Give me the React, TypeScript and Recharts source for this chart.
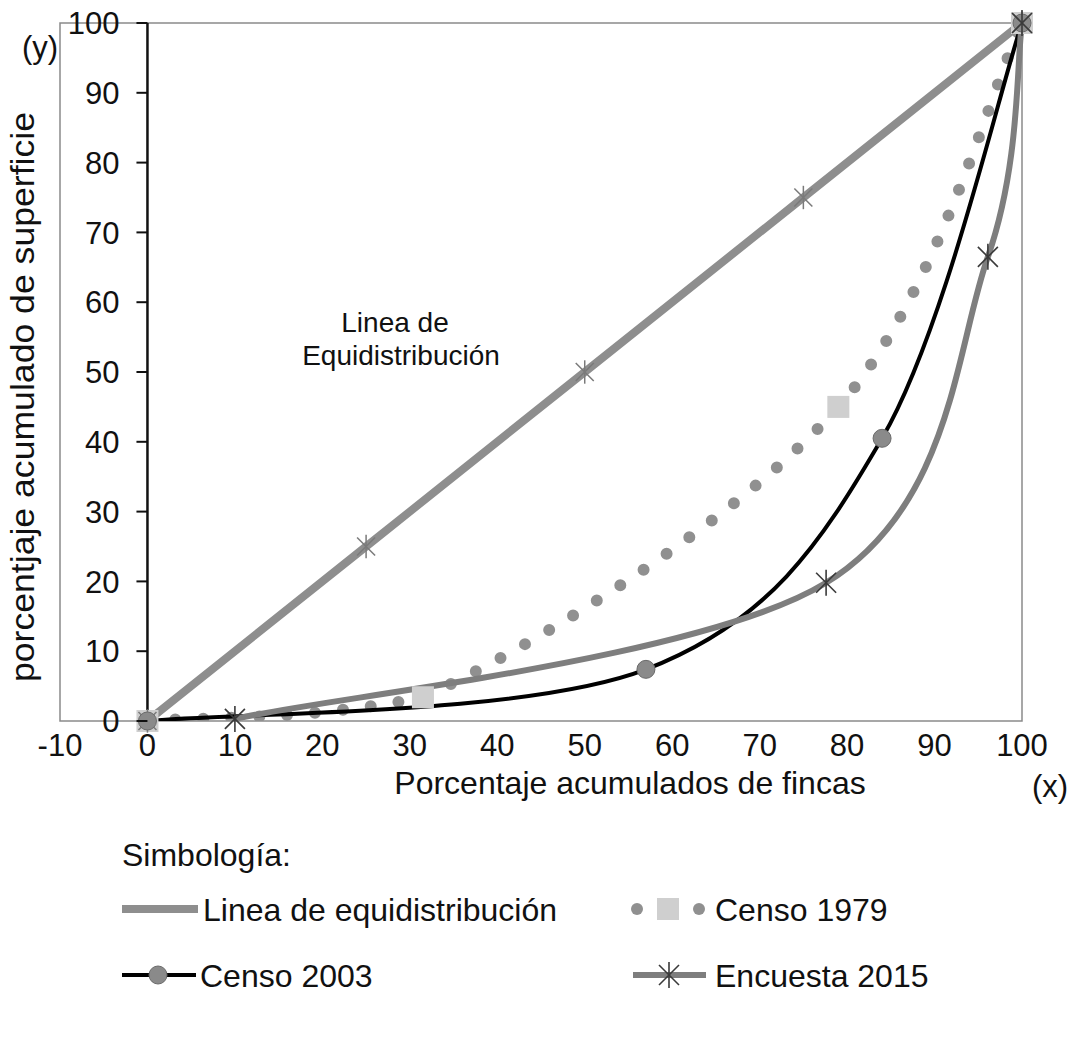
import React from 'react';
import { LineChart, Line, XAxis, YAxis, ReferenceArea, ReferenceLine } from 'recharts';

const xTicks = [-10, 0, 10, 20, 30, 40, 50, 60, 70, 80, 90, 100];
const yTicks = [0, 10, 20, 30, 40, 50, 60, 70, 80, 90, 100];

const equiX = [0, 25, 50, 75, 100];
const equiY = [0, 25, 50, 75, 100];

const censo1979X = [0, 31.5, 79, 100];
const censo1979Y = [0, 3.4, 45, 100];

const censo2003X = [0, 57, 84, 100];
const censo2003Y = [0, 7.4, 40.5, 100];

const encuestaX = [10, 77.6, 96.1, 100];
const encuestaY = [0.3, 19.8, 66.5, 100];

const toPoints = (xs: number[], ys: number[]) => xs.map((x, i) => ({ x, y: ys[i] }));

const equiData = toPoints(equiX, equiY);
const censo1979Data = toPoints(censo1979X, censo1979Y);
const censo2003Data = toPoints(censo2003X, censo2003Y);
const encuestaData = toPoints(encuestaX, encuestaY);

const FONT = '"Liberation Sans", Arial, sans-serif';
const W = 1078;
const CHART_H = 800;
const PLOT_LEFT = 60;
const PLOT_RIGHT = 1022;
const X_MIN = -10;
const X_MAX = 100;
// y axis crosses at x = 0
const AXIS_X = PLOT_LEFT + ((PLOT_RIGHT - PLOT_LEFT) * (0 - X_MIN)) / (X_MAX - X_MIN);

const clamp = (v: number, a: number, b: number) => Math.min(Math.max(v, Math.min(a, b)), Math.max(a, b));

// smoothed line like excel (cardinal spline, 1/6 tangents), no overshoot in y
const excelSmooth: any = (context: any) => {
  let pts: number[][] = [];
  return {
    areaStart() {},
    areaEnd() {},
    lineStart() {
      pts = [];
    },
    point(x: number, y: number) {
      pts.push([+x, +y]);
    },
    lineEnd() {
      const n = pts.length;
      if (!n) return;
      context.moveTo(pts[0][0], pts[0][1]);
      for (let i = 0; i < n - 1; i++) {
        const p0 = pts[Math.max(i - 1, 0)];
        const p1 = pts[i];
        const p2 = pts[i + 1];
        const p3 = pts[Math.min(i + 2, n - 1)];
        context.bezierCurveTo(
          p1[0] + (p2[0] - p0[0]) / 6,
          clamp(p1[1] + (p2[1] - p0[1]) / 6, p1[1], p2[1]),
          p2[0] - (p3[0] - p1[0]) / 6,
          clamp(p2[1] - (p3[1] - p1[1]) / 6, p1[1], p2[1]),
          p2[0],
          p2[1]
        );
      }
    },
  };
};

const Star = ({ cx, cy, s, color, w }: { cx: number; cy: number; s: number; color: string; w: number }) => (
  <g stroke={color} strokeWidth={w} fill="none">
    <line x1={cx} y1={cy - s * 1.3} x2={cx} y2={cy + s * 1.3} />
    <line x1={cx - s} y1={cy - s} x2={cx + s} y2={cy + s} />
    <line x1={cx - s} y1={cy + s} x2={cx + s} y2={cy - s} />
  </g>
);

const equiDot = (p: any) => <Star key={`e-${p.index}`} cx={p.cx} cy={p.cy} s={9} color="#7a7a7a" w={1.5} />;
const encuestaDot = (p: any) => <Star key={`s-${p.index}`} cx={p.cx} cy={p.cy} s={10} color="#3a3a3a" w={1.6} />;
const squareDot = (p: any) => (
  <rect key={`q-${p.index}`} x={p.cx - 11} y={p.cy - 11} width={22} height={22} fill="#cfcfcf" />
);
const circleDot = (p: any) => (
  <circle key={`c-${p.index}`} cx={p.cx} cy={p.cy} r={9} fill="#8a8a8a" stroke="#6a6a6a" strokeWidth={1} />
);

const YTick = (props: any) => {
  const { y, payload } = props;
  return (
    <g>
      <line x1={AXIS_X - 11} x2={AXIS_X} y1={y} y2={y} stroke="#111" strokeWidth={2} />
      <text x={AXIS_X - 28} y={y} dy="0.36em" textAnchor="end" fontSize={31} fontFamily={FONT} fill="#111">
        {payload.value}
      </text>
    </g>
  );
};

const XTick = (props: any) => {
  const { x, payload } = props;
  return (
    <text x={x} y={756} textAnchor="middle" fontSize={31} fontFamily={FONT} fill="#111">
      {payload.value}
    </text>
  );
};

const txt = { fontFamily: FONT, fill: '#111' };

export default function App() {
  return (
    <div style={{ position: 'absolute', left: 0, top: 0, width: W, height: 1045, background: '#fff' }}>
      <LineChart width={W} height={CHART_H} margin={{ top: 23, right: W - PLOT_RIGHT, bottom: 0, left: PLOT_LEFT - 1 }}>
        <XAxis
          type="number"
          dataKey="x"
          domain={[X_MIN, X_MAX]}
          ticks={xTicks}
          interval={0}
          height={CHART_H - 721}
          axisLine={false}
          tickLine={false}
          tick={<XTick />}
        />
        <YAxis
          yAxisId="y"
          type="number"
          domain={[0, 100]}
          ticks={yTicks}
          interval={0}
          width={1}
          axisLine={false}
          tickLine={false}
          tick={<YTick />}
        />
        <YAxis yAxisId="c" type="number" domain={[0, 100]} allowDataOverflow hide />

        <ReferenceArea yAxisId="y" x1={-10} x2={100} y1={0} y2={100} fill="none" stroke="#8a8a8a" strokeWidth={1.5} />
        <ReferenceLine yAxisId="y" x={0} stroke="#111" strokeWidth={2.5} />

        <Line yAxisId="c" data={equiData} dataKey="y" type="linear" stroke="#8e8e8e" strokeWidth={8} dot={false} isAnimationActive={false} />
        <Line
          yAxisId="c"
          data={censo1979Data}
          dataKey="y"
          type={excelSmooth}
          stroke="#909090"
          strokeWidth={12}
          strokeDasharray="0 28"
          strokeLinecap="round"
          dot={false}
          isAnimationActive={false}
        />
        <Line yAxisId="c" data={censo2003Data} dataKey="y" type={excelSmooth} stroke="#000" strokeWidth={4} dot={false} isAnimationActive={false} />
        <Line yAxisId="c" data={encuestaData} dataKey="y" type={excelSmooth} stroke="#7e7e7e" strokeWidth={6} dot={false} isAnimationActive={false} />

        <Line yAxisId="y" data={censo1979Data} dataKey="y" stroke="none" dot={squareDot} isAnimationActive={false} />
        <Line yAxisId="y" data={equiData} dataKey="y" stroke="none" dot={equiDot} isAnimationActive={false} />
        <Line yAxisId="y" data={censo2003Data} dataKey="y" stroke="none" dot={circleDot} isAnimationActive={false} />
        <Line yAxisId="y" data={encuestaData} dataKey="y" stroke="none" dot={encuestaDot} isAnimationActive={false} />
      </LineChart>

      <svg width={W} height={1045} style={{ position: 'absolute', left: 0, top: 0, pointerEvents: 'none' }}>
        <text x={40} y={58} textAnchor="middle" fontSize={31} {...txt}>(y)</text>
        <text
          transform="translate(34, 397) rotate(-90)"
          textAnchor="middle"
          fontSize={34}
          textLength={570}
          lengthAdjust="spacingAndGlyphs"
          {...txt}
        >
          porcentjaje acumulado de superficie
        </text>
        <text x={630} y={794} textAnchor="middle" fontSize={32} {...txt}>Porcentaje acumulados de fincas</text>
        <text x={1050} y={797} textAnchor="middle" fontSize={31} {...txt}>(x)</text>

        <text x={395} y={332} textAnchor="middle" fontSize={28} {...txt}>Linea de</text>
        <text x={401} y={365} textAnchor="middle" fontSize={28} {...txt}>Equidistribución</text>

        <text x={122} y={866} fontSize={32} {...txt}>Simbología:</text>

        <line x1={122} x2={198} y1={909} y2={909} stroke="#8e8e8e" strokeWidth={8} />
        <text x={203} y={921} fontSize={32} {...txt}>Linea de equidistribución</text>

        <circle cx={637} cy={909} r={6} fill="#909090" />
        <rect x={657} y={898} width={22} height={22} fill="#cfcfcf" />
        <circle cx={699} cy={909} r={6} fill="#909090" />
        <text x={715} y={921} fontSize={32} {...txt}>Censo 1979</text>

        <line x1={122} x2={196} y1={975} y2={975} stroke="#000" strokeWidth={4} />
        <circle cx={158} cy={975} r={9} fill="#8a8a8a" stroke="#6a6a6a" strokeWidth={1} />
        <text x={200} y={987} fontSize={32} {...txt}>Censo 2003</text>

        <line x1={633} x2={706} y1={975} y2={975} stroke="#7e7e7e" strokeWidth={6} />
        <Star cx={669} cy={975} s={10} color="#3a3a3a" w={1.6} />
        <text x={715} y={987} fontSize={32} {...txt}>Encuesta 2015</text>
      </svg>
    </div>
  );
}
